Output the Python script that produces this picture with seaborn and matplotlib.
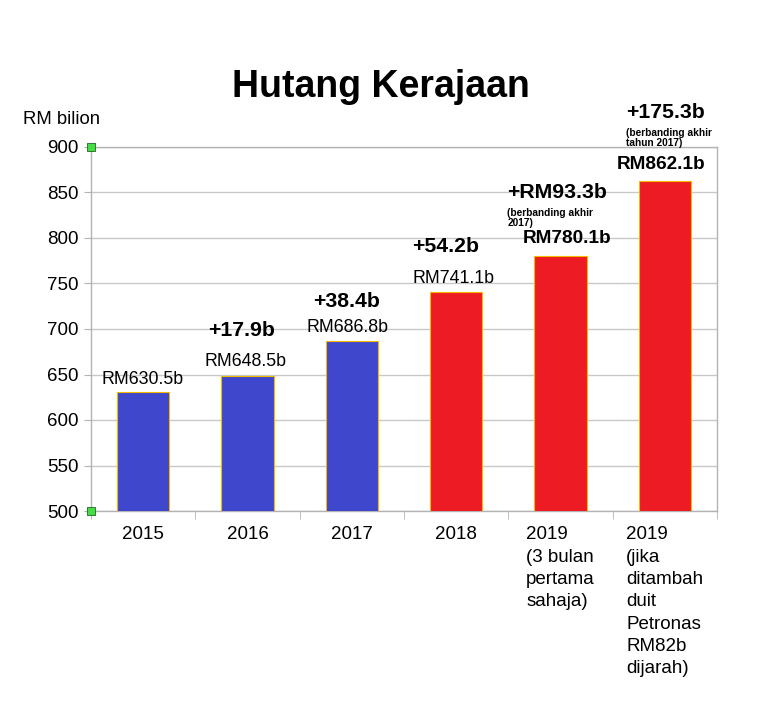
import matplotlib
matplotlib.use("Agg")
import matplotlib.pyplot as plt
import seaborn as sns
import pandas as pd

sns.set_style("white")
plt.rcParams['font.family'] = ['Liberation Sans', 'DejaVu Sans']
plt.rcParams['text.color'] = 'black'
plt.rcParams['xtick.labelcolor'] = 'black'
plt.rcParams['ytick.labelcolor'] = 'black'

# data
kategori = ['2015', '2016', '2017', '2018',
            '2019\n(3 bulan\npertama\nsahaja)',
            '2019\n(jika\nditambah\nduit\nPetronas\nRM82b\ndijarah)']
hutang = [630.5, 648.5, 686.8, 741.1, 780.1, 862.1]
label_hutang = ['RM630.5b', 'RM648.5b', 'RM686.8b', 'RM741.1b', 'RM780.1b', 'RM862.1b']
tambahan = ['', '+17.9b', '+38.4b', '+54.2b', '+RM93.3b', '+175.3b']
nota = ['', '', '', '', '(berbanding akhir\n2017)', '(berbanding akhir\ntahun 2017)']
warna = ['#3F48CC', '#3F48CC', '#3F48CC', '#ED1C24', '#ED1C24', '#ED1C24']

df = pd.DataFrame({'tahun': kategori, 'hutang': hutang})

fig = plt.figure(figsize=(7.57, 7.11), dpi=100)
ax = fig.add_axes([91/757, 1-511/711, 626/757, 364/711])

sns.barplot(data=df, x='tahun', y='hutang', hue='tahun', palette=warna,
            legend=False, width=0.5, edgecolor='#F5B800', linewidth=0.8,
            saturation=1, ax=ax, zorder=3)

ax.set_ylim(500, 900)
ax.set_xlim(-0.5, 5.5)
ax.set_yticks(range(500, 901, 50))
ax.set_xlabel('')
ax.set_ylabel('')
ax.grid(axis='y', color='#C8C8C8', linewidth=1, zorder=0)
for s in ax.spines.values():
    s.set_color('#B3B3B3')
    s.set_linewidth(1)

ax.tick_params(axis='y', labelsize=13.5, length=5, color='#B3B3B3', left=True, pad=4)
ax.tick_params(axis='x', which='major', labelsize=13.5, length=0, pad=11)
ax.set_xticks([i - 0.5 for i in range(7)], minor=True)
ax.tick_params(axis='x', which='minor', length=6, color='#B3B3B3', bottom=True)
for t in ax.get_xticklabels():
    t.set_multialignment('left')
    t.set_va('top')
    t.set_linespacing(1.41)

# penanda hijau pada paksi y
ax.scatter([0, 0], [500, 900], transform=ax.get_yaxis_transform(), marker='s', s=30,
           color='#44DD44', edgecolor='#226622', linewidth=0.6, zorder=5, clip_on=False)

# label nilai
pos_nilai = [(-0.01, 635, False), (0.98, 655, False), (1.96, 692, False),
             (2.97, 746, False), (4.06, 790, True), (4.96, 871, True)]
for (x, y, tebal), txt in zip(pos_nilai, label_hutang):
    ax.text(x, y, txt, ha='center', va='bottom', fontsize=13.7 if tebal else 12.8,
            fontweight='bold' if tebal else 'normal', zorder=6, clip_on=False)

pos_tambah = [None, (0.94, 688, 'center'), (1.95, 720, 'center'), (2.90, 780, 'center'),
              (3.49, 840, 'left'), (4.63, 927, 'left')]
for p, txt in zip(pos_tambah, tambahan):
    if p:
        ax.text(p[0], p[1], txt, ha=p[2], va='bottom', fontsize=15.3,
                fontweight='bold', zorder=6, clip_on=False)

pos_nota = [None, None, None, None, (3.49, 811), (4.63, 899)]
for p, txt in zip(pos_nota, nota):
    if p:
        ax.text(p[0], p[1], txt, ha='left', va='bottom', fontsize=7.3,
                fontweight='bold', linespacing=1.05, zorder=6, clip_on=False)

fig.text(381/757, 1-87/711, 'Hutang Kerajaan', ha='center', va='center',
         fontsize=27, fontweight='bold')
fig.text(23/757, 1-120/711, 'RM bilion', ha='left', va='center', fontsize=13.3)

fig.savefig('out.png', dpi=100)
